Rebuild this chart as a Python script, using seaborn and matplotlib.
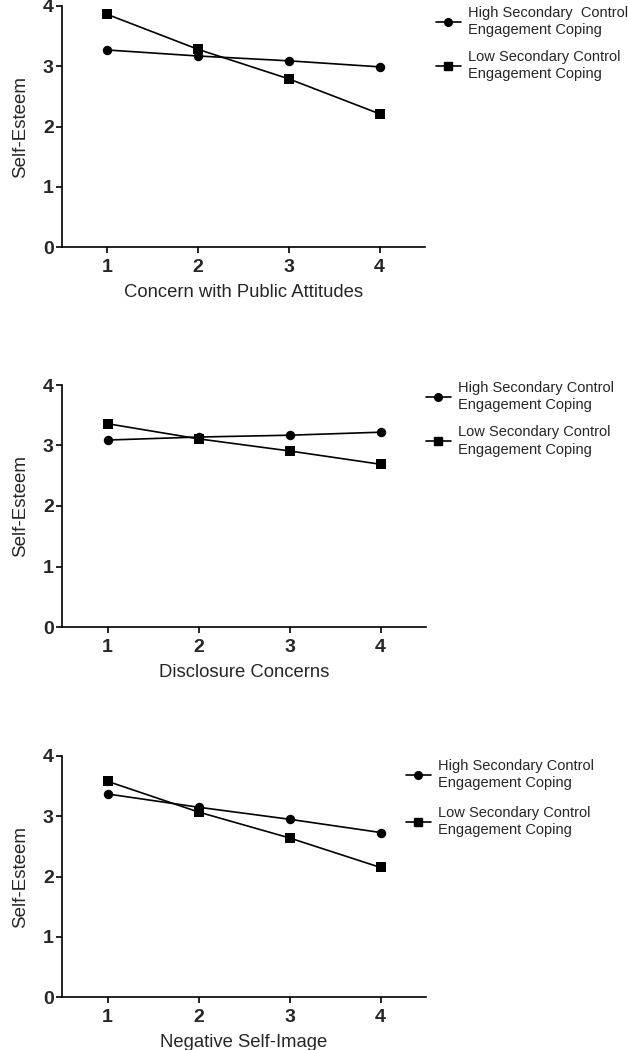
import matplotlib
matplotlib.use("Agg")
import matplotlib.pyplot as plt
import seaborn as sns
import pandas as pd
from matplotlib.lines import Line2D

sns.set_theme(style="ticks")
plt.rcParams['font.family'] = ['Liberation Sans', 'DejaVu Sans']

levels = [1, 2, 3, 4]
series_names = ["High Secondary Control\nEngagement Coping",
                "Low Secondary Control\nEngagement Coping"]
legend_labels_1 = ["High Secondary  Control\nEngagement Coping",
                   "Low Secondary Control\nEngagement Coping"]

x_labels = ["Concern with Public Attitudes", "Disclosure Concerns", "Negative Self-Image"]

public_high = [3.27, 3.17, 3.09, 2.99]
public_low = [3.86, 3.28, 2.79, 2.21]
disclosure_high = [3.09, 3.14, 3.17, 3.22]
disclosure_low = [3.36, 3.11, 2.91, 2.69]
selfimage_high = [3.37, 3.15, 2.95, 2.73]
selfimage_low = [3.58, 3.07, 2.64, 2.15]

panels = [
    (public_high, public_low, x_labels[0], legend_labels_1),
    (disclosure_high, disclosure_low, x_labels[1], series_names),
    (selfimage_high, selfimage_low, x_labels[2], series_names),
]

W, H = 628, 1050
fig = plt.figure(figsize=(W / 100, H / 100), dpi=100)

# axes boxes in pixels: (left, top, right, bottom)
boxes = [(62, 6, 425, 247), (62, 385, 426, 627), (62, 756, 426, 997)]
# legend anchor in pixels (x of handle start, y of top), label spacing
leg_pos = [(436, 6, 0.85), (426, 381, 0.9), (406, 759, 1.05)]

for (hi, lo, xl, labels), (l, t, r, b), (lx, ly, lsp) in zip(panels, boxes, leg_pos):
    ax = fig.add_axes([l / W, 1 - b / H, (r - l) / W, (b - t) / H])
    df = pd.DataFrame({
        "x": levels * 2,
        "y": hi + lo,
        "grp": [labels[0]] * 4 + [labels[1]] * 4,
    })
    sns.lineplot(data=df, x="x", y="y", hue="grp", style="grp",
                 markers={labels[0]: "o", labels[1]: "s"}, dashes=False,
                 palette={labels[0]: "black", labels[1]: "black"},
                 markersize=6.8, linewidth=1.2, markeredgewidth=0,
                 ax=ax, legend=False)
    ax.set_xlim(0.5, 4.5)
    ax.set_ylim(0, 4)
    ax.set_xticks(levels)
    ax.set_yticks([0, 1, 2, 3, 4])
    for lab in ax.get_xticklabels() + ax.get_yticklabels():
        lab.set_fontweight("bold")
        lab.set_fontsize(14)
    ax.tick_params(direction="out", length=4.5, width=1.2, color="black")
    ax.tick_params(axis="y", pad=1.5)
    ax.tick_params(axis="x", pad=4)
    ax.set_xlabel(xl, fontsize=13.3, labelpad=6)
    ax.set_ylabel("Self-Esteem", fontsize=13.5, labelpad=10)
    for s in ["top", "right"]:
        ax.spines[s].set_visible(False)
    for s in ["left", "bottom"]:
        ax.spines[s].set_linewidth(1.2)
        ax.spines[s].set_color("black")
    handles = [
        Line2D([], [], color="black", marker="o", markersize=5.5, linewidth=1.2),
        Line2D([], [], color="black", marker="s", markersize=5.5, linewidth=1.2),
    ]
    leg = fig.legend(handles, labels, loc="upper left",
                     bbox_to_anchor=(lx / W, 1 - ly / H), frameon=False,
                     fontsize=10.5, handlelength=1.7, handletextpad=0.5,
                     labelspacing=lsp, borderpad=0, borderaxespad=0)
    for txt in leg.get_texts():
        txt.set_linespacing(1.3)

fig.savefig("out.png", dpi=100, facecolor="white")
